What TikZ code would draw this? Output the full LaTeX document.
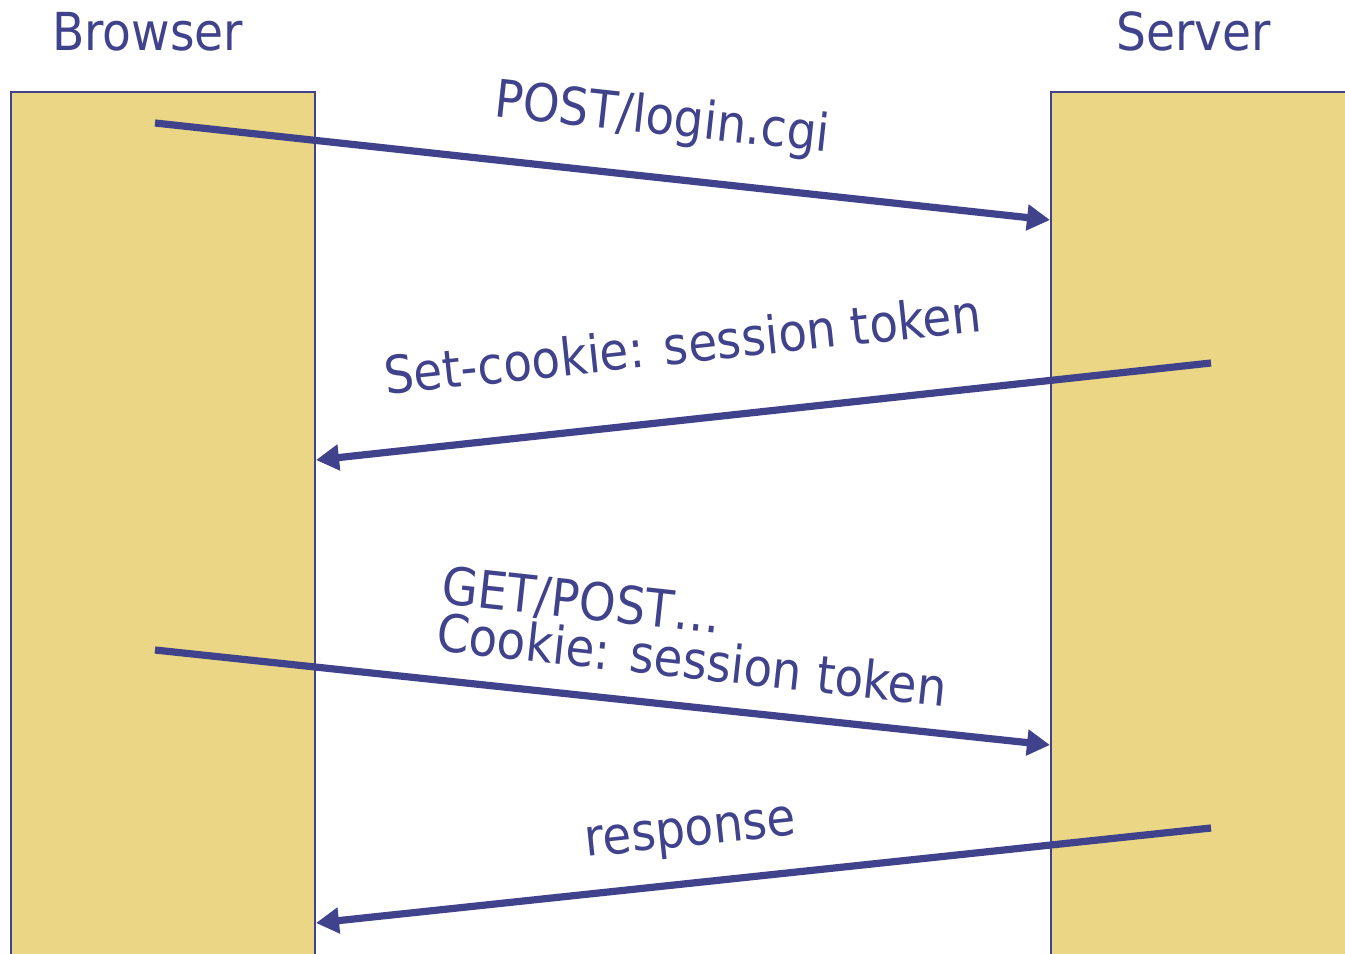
\documentclass[tikz,border=0pt]{standalone}
\usepackage{fontspec}
\setmainfont{DejaVu Sans Condensed}
\usetikzlibrary{arrows.meta,positioning}
\definecolor{msgblue}{RGB}{64,67,140}
\definecolor{lanefill}{RGB}{234,214,133}

\begin{document}
\begin{tikzpicture}[x=0.02cm, y=-0.02cm, >={Triangle[length=0.46cm,width=0.5cm]}]
  % Define styles
  \tikzstyle{lane} = [draw=msgblue, fill=lanefill, line width=1.1pt]
  \tikzstyle{lanetitle} = [text=msgblue, anchor=base west, inner sep=0pt, font=\fontsize{29.8}{27}\selectfont]
  \tikzstyle{msglabel} = [lanetitle, align=left, font=\fontsize{29.6}{27}\selectfont]
  \tikzstyle{msgline} = [draw=msgblue, ->, line width=4.1pt]

  \path[use as bounding box, clip] (0,0) rectangle (1345,953);

  % Lanes
  \path[lane] (11,92) rectangle (315,990);
  \path[lane] (1051,92) rectangle (1380,990);
  \node[lanetitle] (browser) at (52,51) {Browser};
  \node[lanetitle] (server) at (1116,51) {Server};

  % Ends of the messages
  \coordinate (b1) at (155,123);
  \coordinate (s1) at (1050,220);
  \coordinate (s2) at (1211,363);
  \coordinate (b2) at (316,460);
  \coordinate (b3) at (155,650);
  \coordinate (s3) at (1050,745);
  \coordinate (s4) at (1211,828);
  \coordinate (b4) at (316,923);

  % Arrows
  \draw[msgline] (b1) -- (s1);
  \draw[msgline] (s2) -- (b2);
  \draw[msgline] (b3) -- (s3);
  \draw[msgline] (s4) -- (b4);

  % Labels
  \node[msglabel, rotate=-6.2] (login) at (493,116) {POST/login.cgi};
  \node[msglabel, rotate=6.1] (setcookie) at (386,395) {Set-cookie: session token};
  \node[msglabel, rotate=-6.2, anchor=north west] (cookie) at (444,565) {GET/POST…\\Cookie: session token};
  \node[msglabel, rotate=6.1] (response) at (586,857) {response};
\end{tikzpicture}
\end{document}
